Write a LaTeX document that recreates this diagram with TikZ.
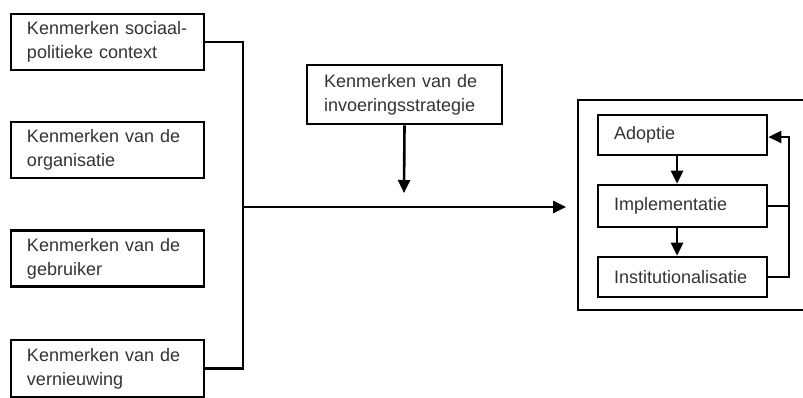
\documentclass[tikz,border=0pt]{standalone}
\usepackage{fontspec}
\setmainfont{Liberation Sans}
\usetikzlibrary{arrows.meta}
\begin{document}
\begin{tikzpicture}[x=1pt,y=-1pt,
  line width=2.6pt,
  box/.style={draw=black, line width=2.6pt, rectangle, inner xsep=0pt, inner ysep=0pt,
    font=\fontsize{18}{24}\selectfont, text=black!80, align=left},
  inbox/.style={box},
  tip/.style={-{Triangle[length=13pt,width=12pt]}}
]
\useasboundingbox (0,0) rectangle (803,397);
% left boxes
\node[box, minimum width=193pt, minimum height=56pt, text width=161pt] (soc) at (107.5,42) {Kenmerken sociaal-\\politieke context};
\node[box, minimum width=193pt, minimum height=56pt, text width=161pt] (org) at (107.5,150) {Kenmerken van de\\organisatie};
\node[box, minimum width=193pt, minimum height=56pt, text width=161pt] (geb) at (107.5,258.5) {Kenmerken van de\\gebruiker};
\node[box, minimum width=193pt, minimum height=57pt, text width=161pt] (ver) at (107.5,368.5) {Kenmerken van de\\vernieuwing};
% strategy box
\node[box, minimum width=195pt, minimum height=59pt, text width=161pt] (str) at (404.5,94.5) {Kenmerken van de\\invoeringsstrategie};
% big box
\draw (578,100) rectangle (815,310);
\coordinate (bigw) at (566,207);
% inner boxes
\node[inbox, minimum width=169pt, minimum height=40pt, text width=137pt] (ado) at (682.5,135) {Adoptie};
\node[inbox, minimum width=169pt, minimum height=42pt, text width=137pt] (imp) at (682.5,206) {Implementatie};
\node[inbox, minimum width=169pt, minimum height=40pt, text width=137pt] (ins) at (682.5,277) {Institutionalisatie};
% connectors left
\coordinate (jt) at (243,42);
\coordinate (jb) at (243,368.5);
\coordinate (jm) at (243,207);
\draw (soc.east) -- (jt) -- (jb) -- (ver.east);
\draw[tip] (jm) -- (bigw);
\coordinate (strend) at (404,193);
\draw[tip] (str.south) -- (strend);
% inner arrows
\draw[tip] (ado.south -| 677,0) -- (imp.north -| 677,0);
\draw[tip] (imp.south -| 677,0) -- (ins.north -| 677,0);
\coordinate (fbt) at (789,137);
\coordinate (fbm) at (789,206);
\coordinate (fbb) at (789,277);
\draw (imp.east) -- (fbm);
\draw[tip] (ins.east) -- (fbb) -- (fbt) -- (ado.east |- fbt);
\end{tikzpicture}
\end{document}
